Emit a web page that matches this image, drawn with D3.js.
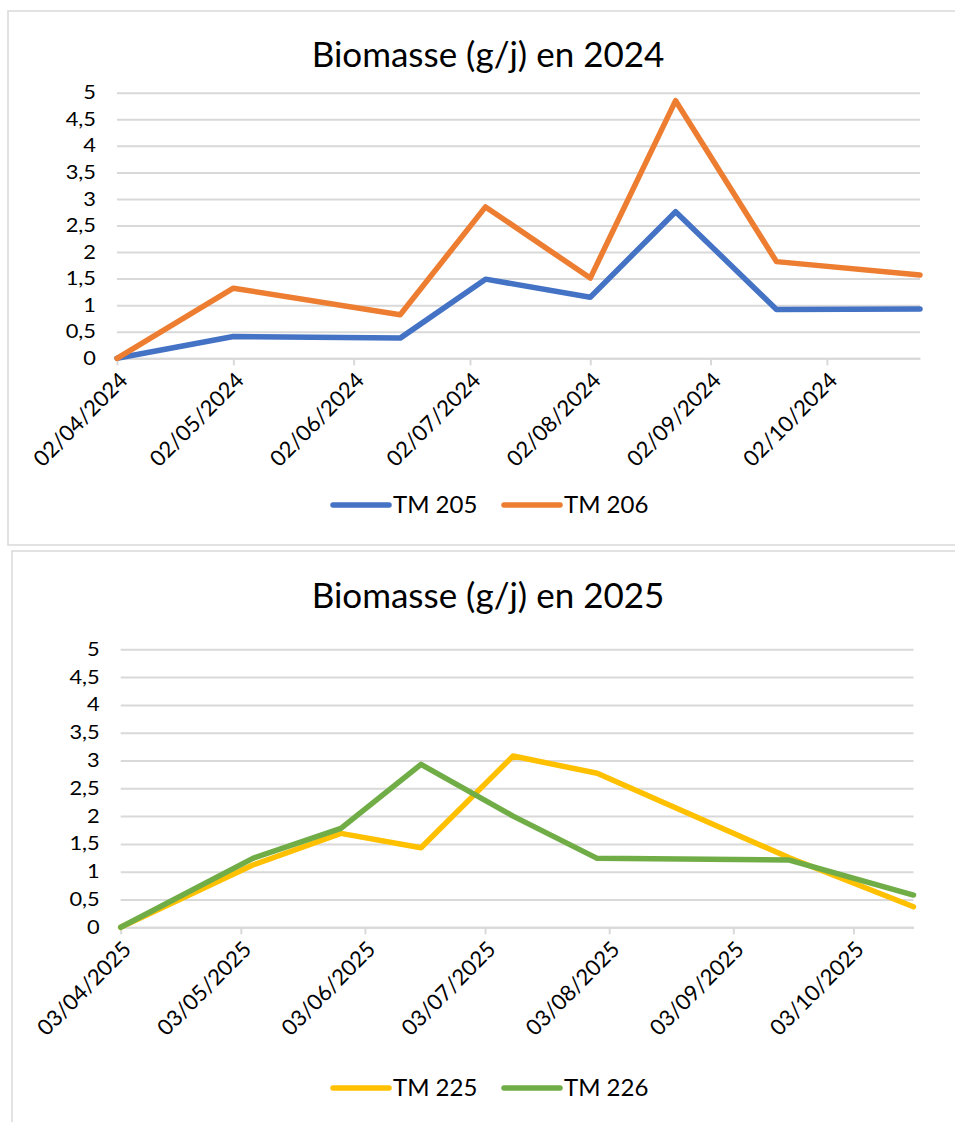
<!DOCTYPE html>
<html>
<head>
<meta charset="utf-8">
<script src="https://cdn.jsdelivr.net/npm/d3@7"></script>
<style>
  body { margin: 0; background: #fff; }
  svg text { font-family: Lato, "Open Sans", sans-serif; fill: #000; }
</style>
</head>
<body>
<div class="chart-container"></div>
<script>
"use strict";

// 2024 data
const dates2024 = ["02/04/2024", "02/05/2024", "14/06/2024", "06/07/2024", "02/08/2024", "24/08/2024", "19/09/2024", "26/10/2024"];
const tm205 = [0, 0.41, 0.38, 1.49, 1.15, 2.76, 0.92, 0.93];
const tm206 = [0, 1.32, 0.82, 2.85, 1.51, 4.85, 1.82, 1.57];
const ticks2024 = ["02/04/2024", "02/05/2024", "02/06/2024", "02/07/2024", "02/08/2024", "02/09/2024", "02/10/2024"];

// 2025 data
const dates2025 = ["03/04/2025", "06/05/2025", "28/05/2025", "17/06/2025", "10/07/2025", "31/07/2025", "17/09/2025", "18/10/2025"];
const tm225 = [0, 1.12, 1.69, 1.43, 3.08, 2.77, 1.25, 0.37];
const tm226 = [0, 1.24, 1.78, 2.93, 2.0, 1.24, 1.21, 0.58];
const ticks2025 = ["03/04/2025", "03/05/2025", "03/06/2025", "03/07/2025", "03/08/2025", "03/09/2025", "03/10/2025"];

const yTicks = [0, 0.5, 1, 1.5, 2, 2.5, 3, 3.5, 4, 4.5, 5];

const parseDate = d3.timeParse("%d/%m/%Y");
const formatDate = d3.timeFormat("%d/%m/%Y");
const frFormat = d3.formatLocale({decimal: ",", thousands: " ", grouping: [3], currency: ["", " €"]}).format("~g");

const svg = d3.select('.chart-container')
  .append('svg')
  .attr('width', 955)
  .attr('height', 1122);

svg.append('rect').attr('width', 955).attr('height', 1122).attr('fill', '#fff');

function drawChart(opt){
  // frame
  svg.append('rect')
    .attr('x', opt.box[0]).attr('y', opt.box[1])
    .attr('width', opt.box[2]).attr('height', opt.box[3])
    .attr('fill', 'none')
    .attr('stroke', '#d9d9d9')
    .attr('stroke-width', 1.5);

  const dates = opt.dates.map(parseDate);
  const x = d3.scaleTime()
    .domain(d3.extent(dates))
    .range([opt.left, opt.right]);
  const y = d3.scaleLinear()
    .domain([0, 5])
    .range([opt.bottom, opt.top]);

  // title
  svg.append('text')
    .attr('x', opt.titleX)
    .attr('y', opt.titleY)
    .attr('text-anchor', 'middle')
    .style('font-size', '35px')
    .text(opt.title);

  // y grid + labels
  const yAxis = svg.append('g')
    .attr('transform', `translate(${opt.left},0)`)
    .call(d3.axisLeft(y).tickValues(yTicks).tickSize(-(opt.right - opt.left)).tickFormat(frFormat));
  yAxis.select('.domain').remove();
  yAxis.selectAll('line').attr('stroke', '#d9d9d9').attr('stroke-width', 2);
  yAxis.selectAll('text')
    .style('font-size', '19px')
    .attr('fill', '#000')
    .attr('x', 0)
    .attr('transform', 'translate(-21,0) scale(1.15,1)');

  // x axis
  const xAxis = svg.append('g')
    .attr('transform', `translate(0,${opt.bottom})`)
    .call(d3.axisBottom(x).tickValues(opt.ticks.map(parseDate)).tickSize(7).tickSizeOuter(0).tickFormat(formatDate));
  xAxis.select('.domain').attr('stroke', '#d9d9d9').attr('stroke-width', 2);
  xAxis.selectAll('line').attr('stroke', '#d9d9d9').attr('stroke-width', 2);
  xAxis.selectAll('text')
    .style('font-size', '22px')
    .attr('fill', '#000')
    .attr('text-anchor', 'end')
    .attr('x', 0)
    .attr('y', 0)
    .attr('dy', '0.35em')
    .attr('transform', 'translate(6,18) rotate(-45)');

  // lines
  const line = d3.line()
    .x((d, i) => x(dates[i]))
    .y(d => y(d));

  opt.series.forEach(s => {
    svg.append('path')
      .datum(s.values)
      .attr('d', line)
      .attr('fill', 'none')
      .attr('stroke', s.color)
      .attr('stroke-width', 5.5)
      .attr('stroke-linejoin', 'round')
      .attr('stroke-linecap', 'round');
  });

  // legend
  const legend = svg.append('g')
    .attr('transform', `translate(0,${opt.legendY})`);
  opt.series.forEach((s, i) => {
    const lx = 333 + i * 171;
    legend.append('line')
      .attr('x1', lx).attr('x2', lx + 56)
      .attr('y1', 0).attr('y2', 0)
      .attr('stroke', s.color)
      .attr('stroke-width', 5.5)
      .attr('stroke-linecap', 'round');
    legend.append('text')
      .attr('x', lx + 60)
      .attr('y', 0)
      .attr('dy', '0.35em')
      .style('font-size', '24px')
      .text(s.name);
  });
}

drawChart({
  box: [8, 11, 960, 534],
  title: "Biomasse (g/j) en 2024",
  titleX: 488, titleY: 67,
  dates: dates2024,
  ticks: ticks2024,
  left: 117, right: 920, top: 92.7, bottom: 358.3,
  legendY: 505,
  series: [
    {name: "TM 205", values: tm205, color: "#4472c4"},
    {name: "TM 206", values: tm206, color: "#ed7d31"}
  ]
});

drawChart({
  box: [12, 551, 960, 600],
  title: "Biomasse (g/j) en 2025",
  titleX: 488, titleY: 608,
  dates: dates2025,
  ticks: ticks2025,
  left: 120.7, right: 913.5, top: 649.3, bottom: 927.3,
  legendY: 1088,
  series: [
    {name: "TM 225", values: tm225, color: "#ffc000"},
    {name: "TM 226", values: tm226, color: "#70ad47"}
  ]
});
</script>
</body>
</html>
